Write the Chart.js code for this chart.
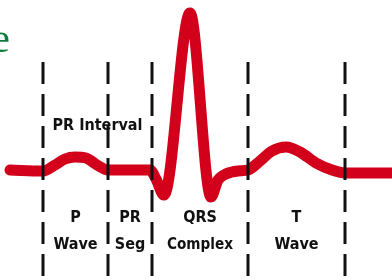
<!DOCTYPE html>
<html lang="en">
  <head>
    <meta charset="UTF-8" />
    <title>ECG waveform</title>
    <script src="https://cdn.jsdelivr.net/npm/chart.js@4"></script>
    <style>
      html, body { margin: 0; padding: 0; background: #fff; }
      .wrap { width: 392px; height: 280px; }
    </style>
  </head>
  <body>
    <div class="wrap"><canvas id="ecgChart"></canvas></div>
  </body>
  <script>
    // ECG trace: time (ms-ish) and amplitude
    const times = [10, 43, 55, 65, 75, 86, 97, 108, 150, 156, 164, 190, 211, 218, 226, 238, 248, 260, 272, 286, 300, 316, 332, 345, 392];
    const amplitude = [1, 0, 6, 12, 14, 13, 6, 1, 1, -8, -24, 158, -26, -9, -3, 0, 1, 10, 20, 24, 19, 8, 1, -2, -2];
    // segment boundaries (dashed lines)
    const boundaries = [43, 108, 152, 248, 345];
    const segmentLabels = [["P", "Wave"], ["PR", "Seg"], ["QRS", "Complex"], ["T", "Wave"]];
    const intervalLabel = "PR Interval";

    const ecgData = times.map((t, i) => ({x: t, y: amplitude[i]}));

    const boundarySets = boundaries.map((b) => ({
      data: [{x: b, y: 109}, {x: b, y: -109}],
      borderColor: "#111",
      borderWidth: 3,
      borderDash: [22, 10],
      pointRadius: 0,
      clip: false,
    }));

    // labels, the stray title letter
    const labelPlugin = {
      id: "labels",
      afterDraw(chart) {
        const c = chart.ctx;
        const xs = chart.scales.x;
        c.save();
        c.fillStyle = "#111";
        c.textAlign = "center";
        c.textBaseline = "alphabetic";
        c.font = "bold 16px 'DejaVu Sans Condensed'";
        const mid = (a, b) => (xs.getPixelForValue(boundaries[a]) + xs.getPixelForValue(boundaries[b])) / 2;
        c.fillText(intervalLabel, mid(0, 2), 130, 95);
        segmentLabels.forEach((lines, i) => {
          const x = mid(i, i + 1);
          c.fillText(lines[0], x, 222, 44);
          c.fillText(lines[1], x, 249, lines[1].length > 4 ? 66 : 45);
        });
        c.fillStyle = "#0e7a3c";
        c.textAlign = "right";
        c.font = "42px 'Liberation Serif'";
        c.fillText("e", 10, 52);
        c.restore();
      },
    };

    const ctx = document.getElementById("ecgChart").getContext("2d");
    new Chart(ctx, {
      type: "line",
      data: {
        datasets: [
          ...boundarySets,
          {
            data: ecgData,
            borderColor: "#d3001c",
            borderWidth: 11,
            borderCapStyle: "round",
            borderJoinStyle: "round",
            cubicInterpolationMode: "monotone",
            pointRadius: 0,
            clip: false,
          },
          {
            data: ecgData,
            borderColor: "rgba(255,140,150,0.35)",
            borderWidth: 2,
            cubicInterpolationMode: "monotone",
            pointRadius: 0,
            clip: false,
          },
        ],
      },
      options: {
        responsive: true,
        maintainAspectRatio: false,
        animation: false,
        layout: {padding: 0},
        plugins: {legend: {display: false}, tooltip: {enabled: false}},
        scales: {
          x: {type: "linear", display: false, min: 0, max: 392},
          y: {type: "linear", display: false, min: -109, max: 171},
        },
      },
      plugins: [labelPlugin],
    });
  </script>
</html>
